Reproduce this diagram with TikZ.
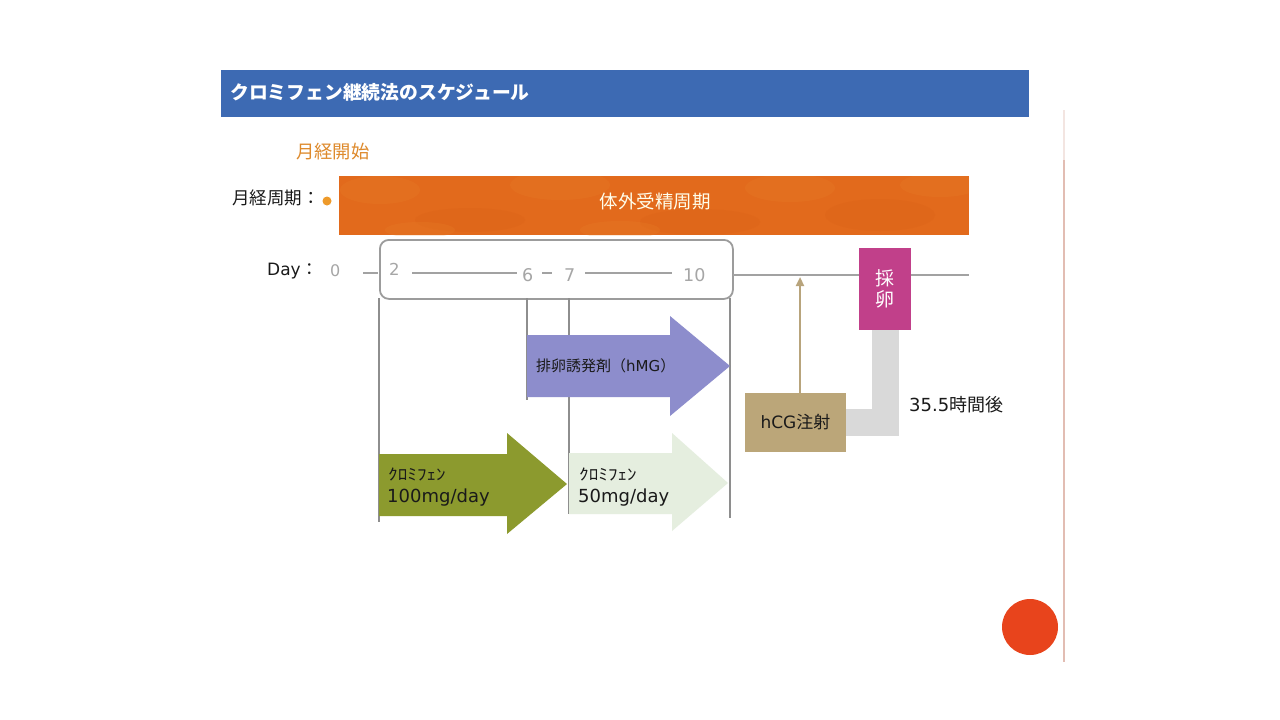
\documentclass[tikz,border=0pt]{standalone}
\usepackage{fontspec}
\usepackage{graphicx}
\setmainfont{Noto Sans CJK JP}
\newfontfamily\dv{DejaVu Sans}
\usetikzlibrary{arrows.meta}
\definecolor{hdrblue}{HTML}{3D6AB3}
\definecolor{ivforange}{HTML}{E26A1C}
\definecolor{ivfdark}{HTML}{D55A14}
\definecolor{ivflight}{HTML}{EC8A30}
\definecolor{startorange}{HTML}{DE8A2C}
\definecolor{dotorange}{HTML}{EE9A2A}
\definecolor{numgray}{HTML}{A6A6A6}
\definecolor{linegray}{HTML}{A2A2A2}
\definecolor{boxgray}{HTML}{9C9C9C}
\definecolor{vgray}{HTML}{8E8E8E}
\definecolor{hmgc}{HTML}{8D8DCC}
\definecolor{olivec}{HTML}{8C9A2E}
\definecolor{palec}{HTML}{E5EEDF}
\definecolor{tanc}{HTML}{BBA679}
\definecolor{tanline}{HTML}{B8A47C}
\definecolor{magc}{HTML}{C1408A}
\definecolor{connc}{HTML}{D9D9D9}
\definecolor{redc}{HTML}{E8441C}
\definecolor{pinkline}{HTML}{E2BDB3}
\definecolor{txt}{HTML}{1A1A1A}
\tikzset{
  fs/.style={font=\fontsize{#1}{#1}\selectfont},
  lbl/.style={inner sep=0pt, text=txt},
  num/.style={inner sep=0pt, text=numgray, font=\dv\fontsize{#1}{#1}\selectfont},
  axis/.style={draw=linegray, line width=1.3pt},
  guide/.style={draw=vgray, line width=1.2pt},
  boxnode/.style={inner sep=0pt, anchor=north west},
}
\begin{document}
\begin{tikzpicture}[x=1pt,y=-1pt]
\useasboundingbox (0,0) rectangle (1280,720);
\fill[white] (0,0) rectangle (1280,720);

% header
\node[boxnode, fill=hdrblue, minimum width=808pt, minimum height=47pt] (hdr) at (221,70) {};
\node[anchor=west, inner sep=0pt, text=white, font=\bfseries\fontsize{18.8}{20}\selectfont] (title) at (230,92) {クロミフェン継続法のスケジュール};

% faint right margin line
\draw[draw=pinkline!40, line width=1.2pt] (1064,110) -- (1064,160);
\draw[draw=pinkline, line width=1.4pt] (1064,160) -- (1064,662);

% menstruation start
\node[lbl, anchor=west, text=startorange, fs=18.3] (start) at (296,152) {月経開始};
\node[lbl, anchor=west, fs=17.5] (cycle) at (232,198) {月経周期：};
\fill[dotorange] (327,201) circle[radius=4.5pt];

% IVF bar
\node[boxnode, fill=ivforange, minimum width=630pt, minimum height=59pt] (ivf) at (339,176) {};
\begin{scope}
\clip (339,176) rectangle (969,235);
\foreach \cx/\cy/\rx/\ry/\c in {380/190/40/14/ivflight, 470/220/55/12/ivfdark, 560/185/50/15/ivflight, 700/222/60/13/ivfdark, 790/188/45/14/ivflight, 880/215/55/16/ivfdark, 940/185/40/12/ivflight, 420/230/35/8/ivflight, 620/230/40/9/ivflight}
  \fill[\c, opacity=0.18] (\cx,\cy) ellipse[x radius=\rx pt, y radius=\ry pt];
\end{scope}
\node[inner sep=0pt, text=white!92!yellow, fs=18.5] (ivft) at (655,201) {体外受精周期};

% Day row
\node[lbl, anchor=base west, fs=17] (daylbl) at (267,275) {{\dv Day}：};
\node[num=16, anchor=base west] (d0) at (330,276) {0};
\node[boxnode, draw=boxgray, line width=1.8pt, rounded corners=9pt, minimum width=353pt, minimum height=59pt] (daybox) at (379,239) {};
\node[num=16.5, anchor=base west] (d2) at (389,275) {2};
\node[num=17.5, anchor=base west] (d6) at (522,281) {6};
\node[num=17.5, anchor=base west] (d7) at (564,281) {7};
\node[num=17.5, anchor=base west] (d10) at (683,281) {10};
\draw[axis] (363,273) -- (378,273);
\draw[axis] (412,273) -- (517,273);
\draw[axis] (542,273) -- (552,273);
\draw[axis] (585,273) -- (672,273);
\draw[axis] (733,275) -- (969,275);

% guide lines
\draw[guide] (379,298) -- (379,522);
\draw[guide] (527,298) -- (527,400);
\draw[guide] (569,298) -- (569,514);
\draw[guide] (730,298) -- (730,518);

% hMG arrow
\fill[hmgc] (527,335) -- (670,335) -- (670,316) -- (730,366) -- (670,416) -- (670,397) -- (527,397) -- cycle;
\node[lbl, anchor=west, fs=15] (hmg) at (536,366) {排卵誘発剤（{\dv hMG}）};

% clomiphene 100
\fill[olivec] (379,454) -- (507,454) -- (507,433) -- (567,484) -- (507,534) -- (507,516) -- (379,516) -- cycle;
\node[lbl, anchor=base west, fs=16] (c100a) at (388,480) {\scalebox{1.2}[1]{ｸﾛﾐﾌｪﾝ}};
\node[lbl, anchor=base west, font=\dv\fontsize{18}{18}\selectfont] (c100b) at (387,502) {100mg/day};

% clomiphene 50
\fill[palec] (569,453) -- (672,453) -- (672,433) -- (728,483) -- (672,531) -- (672,514) -- (569,514) -- cycle;
\node[lbl, anchor=base west, fs=16] (c50a) at (579,480) {\scalebox{1.2}[1]{ｸﾛﾐﾌｪﾝ}};
\node[lbl, anchor=base west, font=\dv\fontsize{18}{18}\selectfont] (c50b) at (578,502) {50mg/day};

% hCG and oocyte retrieval
\node[fill=tanc, minimum width=101pt, minimum height=59pt, inner sep=0pt, text=txt, fs=17] (hcg) at (795.5,422.5) {{\dv hCG}注射};
\node[fill=magc, minimum width=52pt, minimum height=82pt, inner sep=0pt, text=white, align=center, font=\fontsize{19}{21}\selectfont] (sairan) at (885,289) {採\\卵};
\draw[connc, line width=27pt] (hcg.east) -| (sairan.south);
\coordinate (hcgtip) at (800,277);
\draw[tanline, line width=2.2pt, -{Triangle[width=8pt,length=9pt]}] (hcg.north -| hcgtip) -- (hcgtip);
\node[lbl, anchor=west, fs=18] (hours) at (909,405) {{\dv 35.5}時間後};

% red circle
\fill[redc] (1030,627) circle[radius=28pt];
\end{tikzpicture}
\end{document}
